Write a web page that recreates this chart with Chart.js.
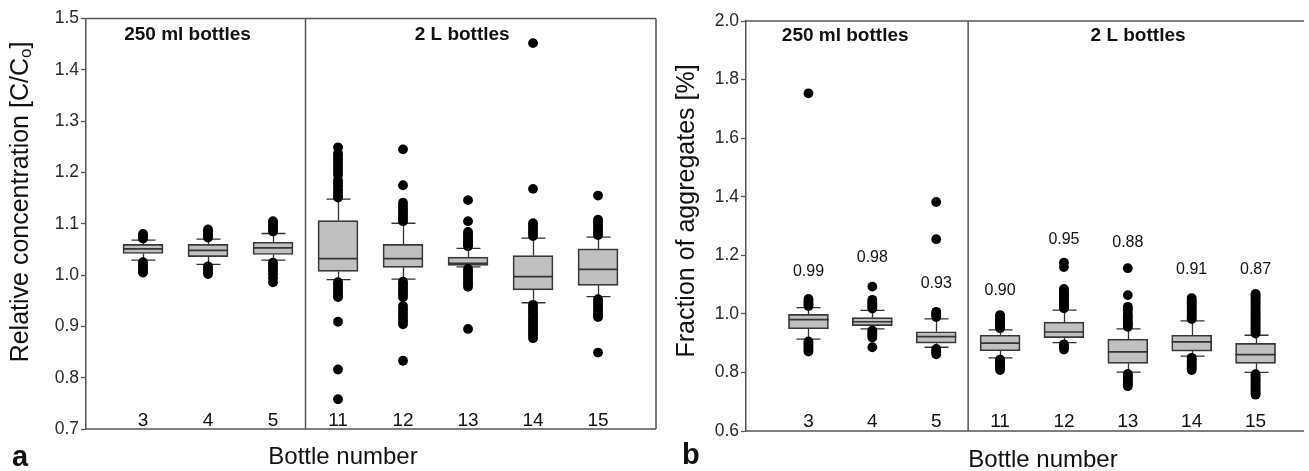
<!DOCTYPE html>
<html><head><meta charset="utf-8">
<script src="https://cdn.jsdelivr.net/npm/chart.js@4.4.1/dist/chart.umd.min.js"></script>
<style>
html,body{margin:0;padding:0;background:#fff;}
#wrap{position:relative;width:1309px;height:471px;overflow:hidden;background:#fff;}
#ca{position:absolute;left:0;top:0;}
#cb{position:absolute;left:660px;top:0;}
</style></head><body>
<div id="wrap"><canvas id="ca" width="665" height="471"></canvas><canvas id="cb" width="649" height="471"></canvas></div>
<script>
// ---------- data ----------
const bottles = ['3','4','5','11','12','13','14','15'];
const groupLabels = ['250 ml bottles','2 L bottles'];

// Panel a: relative concentration
const concTicks = [0.7,0.8,0.9,1.0,1.1,1.2,1.3,1.4,1.5];
const concQ1  = [1.042,1.036,1.040,1.007,1.015,1.019,0.971,0.980];
const concMed = [1.051,1.048,1.053,1.032,1.032,1.023,0.997,1.011];
const concQ3  = [1.060,1.060,1.064,1.106,1.060,1.035,1.038,1.051];
const concLow = [1.029,1.021,1.029,0.991,0.992,1.016,0.946,0.958];
const concHigh= [1.068,1.070,1.081,1.148,1.101,1.052,1.072,1.074];
const concOut = [
  [1.071,1.074,1.077,1.080,1.025,1.020,1.016,1.012,1.008,1.005],
  [1.073,1.077,1.081,1.085,1.089,1.017,1.013,1.009,1.005,1.002],
  [1.085,1.089,1.093,1.097,1.101,1.105,1.024,1.019,1.013,1.007,1.001,0.994,0.986],
  [1.249,1.237,1.231,1.225,1.219,1.213,1.207,1.201,1.195,1.185,1.179,1.173,1.167,1.161,1.155,1.151,
   0.986,0.981,0.976,0.971,0.966,0.961,0.957,0.909,0.816,0.758],
  [1.105,1.110,1.115,1.120,1.125,1.130,1.135,1.141,1.175,1.245,
   0.987,0.982,0.977,0.972,0.967,0.962,0.957,0.940,0.934,0.928,0.922,0.916,0.910,0.904,0.833],
  [1.056,1.060,1.064,1.068,1.072,1.076,1.080,1.084,1.105,1.146,
   1.012,1.007,1.002,0.997,0.992,0.987,0.982,0.977,0.895],
  [1.076,1.081,1.086,1.091,1.096,1.101,1.168,1.452,
   0.942,0.937,0.932,0.927,0.922,0.917,0.912,0.907,0.902,0.897,0.892,0.887,0.882,0.877],
  [1.078,1.083,1.088,1.093,1.098,1.103,1.108,1.155,
   0.953,0.948,0.943,0.938,0.933,0.928,0.923,0.918,0.849]
];

// Panel b: fraction of aggregates
const aggTicks = [0.6,0.8,1.0,1.2,1.4,1.6,1.8,2.0];
const aggQ1  = [0.949,0.960,0.900,0.874,0.919,0.831,0.873,0.831];
const aggMed = [0.980,0.973,0.922,0.900,0.938,0.870,0.904,0.861];
const aggQ3  = [0.998,0.987,0.939,0.927,0.972,0.914,0.927,0.899];
const aggLow = [0.914,0.949,0.886,0.850,0.902,0.801,0.856,0.800];
const aggHigh= [1.021,1.012,0.983,0.945,1.013,0.949,0.976,0.927];
const aggOut = [
  [1.027,1.033,1.039,1.045,1.051,1.753,0.906,0.899,0.892,0.885,0.878,0.871],
  [1.018,1.024,1.030,1.036,1.042,1.048,1.093,0.943,0.937,0.931,0.925,0.919,0.886],
  [0.989,0.995,1.001,1.007,1.255,1.382,0.880,0.874,0.868,0.862],
  [0.951,0.957,0.963,0.969,0.975,0.981,0.987,0.993,0.996,0.844,0.838,0.832,0.826,0.820,0.814,0.808],
  [1.019,1.025,1.031,1.037,1.043,1.049,1.055,1.061,1.067,1.073,1.079,1.085,1.160,1.175,
   0.896,0.890,0.884,0.878],
  [0.956,0.962,0.968,0.975,0.985,0.992,1.000,1.012,1.018,1.024,1.064,1.156,
   0.795,0.789,0.783,0.777,0.771,0.765,0.759,0.753],
  [0.982,0.988,0.994,1.000,1.006,1.012,1.018,1.024,1.030,1.036,1.042,1.048,1.054,
   0.850,0.844,0.838,0.832,0.826,0.820,0.814,0.808],
  [0.933,0.939,0.945,0.951,0.957,0.963,0.969,0.975,0.981,0.987,0.993,0.999,1.005,1.011,1.017,1.023,1.029,1.035,1.041,1.047,1.053,1.059,1.065,1.068,
   0.794,0.788,0.782,0.776,0.770,0.764,0.758,0.752,0.746,0.740,0.734,0.728,0.724]
];
const aggMeanLabels = ['0.99','0.98','0.93','0.90','0.95','0.88','0.91','0.87'];

// ---------- drawing ----------
const FONT = '"Liberation Sans", Arial, Helvetica, sans-serif';
const aggLabelAnchor = [1.144,1.191,1.104,1.081,1.252,1.243,1.152,1.152];

const panelPlugin = {
  id: 'panel',
  beforeDatasetsDraw(chart) {
    const o = chart.options.plugins.panel, ctx = chart.ctx;
    const xs = chart.scales.x, ys = chart.scales.y;
    ctx.save();
    ctx.strokeStyle = '#333'; ctx.lineWidth = 1.3;
    o.q1.forEach((q, i) => {
      const x = Math.round(xs.getPixelForValue(i)) + 0.5;
      const yl = ys.getPixelForValue(o.low[i]), yh = ys.getPixelForValue(o.high[i]);
      const y1 = ys.getPixelForValue(q), y3 = ys.getPixelForValue(o.q3[i]);
      ctx.beginPath();
      ctx.moveTo(x, y3); ctx.lineTo(x, yh);
      ctx.moveTo(x - 12, yh); ctx.lineTo(x + 12, yh);
      ctx.moveTo(x, y1); ctx.lineTo(x, yl);
      ctx.moveTo(x - 12, yl); ctx.lineTo(x + 12, yl);
      ctx.stroke();
    });
    ctx.restore();
  },
  afterDatasetDraw(chart, args) {
    if (args.index !== 0) return;
    const o = chart.options.plugins.panel, ctx = chart.ctx;
    const xs = chart.scales.x, ys = chart.scales.y;
    ctx.save();
    ctx.strokeStyle = '#333'; ctx.lineWidth = 1.7;
    o.med.forEach((m, i) => {
      const x = xs.getPixelForValue(i), y = ys.getPixelForValue(m);
      ctx.beginPath(); ctx.moveTo(x - 20, y); ctx.lineTo(x + 20, y); ctx.stroke();
    });
    ctx.restore();
  },
  afterDraw(chart) {
    const o = chart.options.plugins.panel, ctx = chart.ctx;
    const xs = chart.scales.x, ys = chart.scales.y, ca = chart.chartArea;
    ctx.save();
    ctx.strokeStyle = '#555'; ctx.lineWidth = 1.5;
    ctx.beginPath();
    ctx.moveTo(ca.left, ca.top); ctx.lineTo(ca.right, ca.top);
    ctx.moveTo(ca.left, ca.bottom); ctx.lineTo(ca.right, ca.bottom);
    if (o.rightBorder) { ctx.moveTo(ca.right, ca.top); ctx.lineTo(ca.right, ca.bottom); }
    const xd = xs.getPixelForValue(2.5);
    ctx.moveTo(xd, ca.top); ctx.lineTo(xd, ca.bottom);
    ctx.stroke();

    ctx.fillStyle = '#111';
    // category labels inside plot
    ctx.font = '19px ' + FONT; ctx.textAlign = 'center'; ctx.textBaseline = 'alphabetic';
    bottles.forEach((b, i) => ctx.fillText(b, xs.getPixelForValue(i), ca.bottom - o.catOff));
    // group labels
    ctx.font = 'bold 19px ' + FONT;
    ctx.fillText(groupLabels[0], xs.getPixelForValue(o.groupX[0]), ca.top + o.groupOff);
    ctx.fillText(groupLabels[1], xs.getPixelForValue(o.groupX[1]), ca.top + o.groupOff);
    // mean labels
    if (o.means) {
      ctx.font = '16px ' + FONT; ctx.textBaseline = 'middle';
      o.means.forEach((t, i) => ctx.fillText(t, xs.getPixelForValue(i), ys.getPixelForValue(o.meanAt[i])));
    }
    // x title
    ctx.textBaseline = 'alphabetic';
    ctx.font = '24px ' + FONT;
    ctx.fillText('Bottle number', o.xTitle[0], o.xTitle[1]);
    // panel letter
    ctx.font = 'bold 29px ' + FONT; ctx.textAlign = 'left';
    ctx.fillText(o.letter, o.letterPos[0], o.letterPos[1]);
    // y title (rotated)
    ctx.translate(o.yTitle[0], o.yTitle[1]);
    ctx.rotate(-Math.PI / 2);
    ctx.textBaseline = 'middle';
    const parts = o.yTitleParts;
    const big = '25px ' + FONT, small = '17px ' + FONT;
    let total = 0;
    parts.forEach(p => { ctx.font = p.sub ? small : big; total += ctx.measureText(p.t).width; });
    let cx = -total / 2;
    ctx.textAlign = 'left';
    parts.forEach(p => {
      ctx.font = p.sub ? small : big;
      ctx.fillText(p.t, cx, p.sub ? 5 : 0);
      cx += ctx.measureText(p.t).width;
    });
    ctx.restore();
  }
};

function makePanel(canvas, cfg) {
  const outPts = [];
  cfg.out.forEach((arr, i) => arr.forEach(v => outPts.push({ x: i, y: v })));
  return new Chart(canvas, {
    data: {
      datasets: [
        {
          type: 'bar',
          data: bottles.map((b, i) => ({ x: i, y: [cfg.q1[i], cfg.q3[i]] })),
          backgroundColor: '#c0c0c0', borderColor: '#383838', borderWidth: 1.7,
          borderSkipped: false, barThickness: 40, order: 2
        },
        {
          type: 'scatter',
          data: outPts,
          pointRadius: 4.9, pointBackgroundColor: '#000', pointBorderWidth: 0,
          order: 1
        }
      ]
    },
    options: {
      responsive: false, animation: false, events: [],
      layout: { padding: cfg.padding },
      plugins: {
        legend: { display: false }, tooltip: { enabled: false },
        panel: cfg.panel
      },
      scales: {
        x: { type: 'linear', display: false, min: cfg.xmin, max: cfg.xmax, offset: false },
        y: {
          type: 'linear', min: cfg.ticks[0], max: cfg.ticks[cfg.ticks.length - 1],
          afterBuildTicks: s => { s.ticks = cfg.ticks.map(v => ({ value: v })); },
          afterFit: s => { s.width = cfg.yWidth; s.paddingTop = 0; s.paddingBottom = 0; },
          grid: { drawOnChartArea: false, drawTicks: true, tickLength: 5, color: '#555', tickWidth: 1.3 },
          border: { display: true, color: '#555', width: 1.5 },
          ticks: { font: { size: 17.5, family: FONT }, color: '#2a2a2a', padding: 2,
                   callback: v => Number(v).toFixed(1) }
        }
      }
    },
    plugins: [panelPlugin]
  });
}

makePanel(document.getElementById('ca'), {
  q1: concQ1, q3: concQ3, out: concOut, ticks: concTicks,
  xmin: -0.877, xmax: 7.892, yWidth: 86,
  padding: { left: 0, top: 18.5, right: 9, bottom: 42 },
  panel: {
    q1: concQ1, q3: concQ3, med: concMed, low: concLow, high: concHigh,
    rightBorder: true, catOff: 3, groupX: [0.685, 4.91], groupOff: 21,
    xTitle: [343, 464], letter: 'a', letterPos: [12, 466], yTitle: [21, 202],
    yTitleParts: [{ t: 'Relative concentration [C/C' }, { t: 'o', sub: true }, { t: ']' }]
  }
});

makePanel(document.getElementById('cb'), {
  q1: aggQ1, q3: aggQ3, out: aggOut, ticks: aggTicks,
  xmin: -0.978, xmax: 7.76, yWidth: 86,
  padding: { left: 0, top: 21, right: 0, bottom: 40 },
  panel: {
    q1: aggQ1, q3: aggQ3, med: aggMed, low: aggLow, high: aggHigh,
    rightBorder: false, catOff: 4, groupX: [0.575, 5.16], groupOff: 20,
    means: aggMeanLabels, meanAt: aggLabelAnchor,
    xTitle: [383, 467], letter: 'b', letterPos: [22, 464], yTitle: [27, 211],
    yTitleParts: [{ t: 'Fraction of aggregates [%]' }]
  }
});
</script>
</body></html>
